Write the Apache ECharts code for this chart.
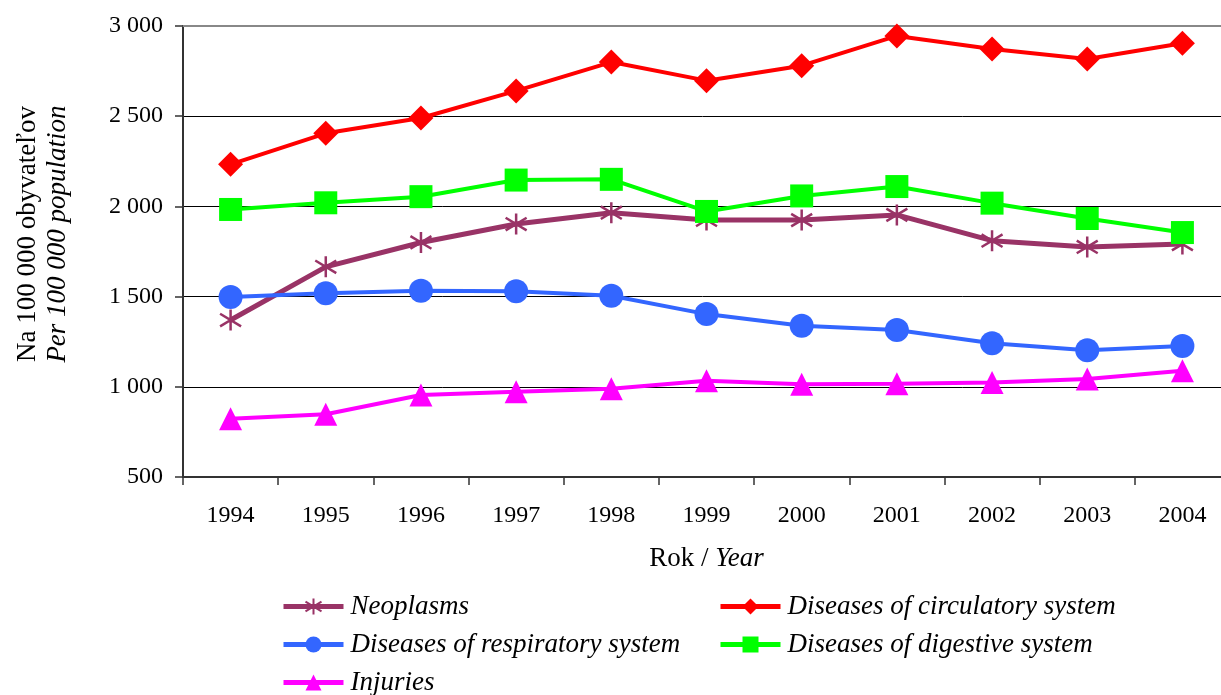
<!DOCTYPE html>
<html>
<head>
<meta charset="utf-8">
<script src="https://cdn.jsdelivr.net/npm/echarts@6/dist/echarts.min.js"></script>
<style>
  html, body { margin: 0; padding: 0; background: #fff; }
  #chart { width: 1221px; height: 695px; }
</style>
</head>
<body>
<div id="chart"></div>
<script>
  // roky / years
  const years = ['1994', '1995', '1996', '1997', '1998', '1999', '2000', '2001', '2002', '2003', '2004']

  // na 100 000 obyvatelov
  const neoplasms = [1370, 1665, 1800, 1902, 1965, 1925, 1924, 1953, 1810, 1775, 1791]
  const circulatory = [2233, 2405, 2490, 2640, 2800, 2697, 2780, 2945, 2873, 2817, 2904]
  const respiratory = [1498, 1518, 1532, 1530, 1505, 1403, 1339, 1315, 1241, 1202, 1226]
  const digestive = [1983, 2020, 2054, 2146, 2150, 1972, 2058, 2110, 2018, 1933, 1855]
  const injuries = [823, 848, 955, 972, 989, 1034, 1014, 1017, 1024, 1043, 1089]

  const names = [
    'Neoplasms',
    'Diseases of circulatory system',
    'Diseases of respiratory system',
    'Diseases of digestive system',
    'Injuries'
  ]

  const serif = '"Liberation Serif", "DejaVu Serif", serif'
  const asterisk = 'path://M10,0L10,20M1,4L19,16M1,16L19,4'

  // 3000 -> "3 000"
  function fmt (v) {
    if (v < 1000) return String(v)
    let rest = String(v % 1000)
    while (rest.length < 3) rest = '0' + rest
    return Math.floor(v / 1000) + ' ' + rest
  }

  function mkSeries (name, data, color, symbol, size, width) {
    return {
      name: name,
      type: 'line',
      data: data,
      symbol: symbol,
      symbolSize: size,
      showAllSymbol: true,
      color: color,
      lineStyle: { color: color, width: width },
      itemStyle: { color: color, borderColor: color, borderWidth: symbol === asterisk ? 2.5 : 0 },
      emphasis: { disabled: true },
      animation: false
    }
  }

  // jedna legenda pre kazdu polozku, aby sedeli stlpce
  function mkLegend (name, left, top) {
    return {
      data: [name],
      left: left,
      top: top,
      itemWidth: 60,
      itemHeight: 20,
      padding: 0,
      lineStyle: { width: 5 },
      textStyle: {
        fontFamily: serif,
        fontStyle: 'italic',
        fontSize: 27,
        color: '#000',
        padding: [0, 0, 0, 2]
      }
    }
  }

  let chart = echarts.init(document.getElementById('chart'), null, { renderer: 'canvas' })
  chart.setOption({
    animation: false,
    backgroundColor: '#fff',
    grid: {
      left: 183,
      top: 26,
      width: 1047,
      height: 451,
      outerBoundsMode: 'none',
      containLabel: false
    },
    legend: [
      mkLegend(names[0], 281, 593),
      mkLegend(names[2], 281, 631),
      mkLegend(names[4], 281, 669),
      mkLegend(names[1], 718, 593),
      mkLegend(names[3], 718, 631)
    ],
    xAxis: [
      {
        type: 'category',
        data: years,
        boundaryGap: true,
        axisLine: { lineStyle: { color: '#333', width: 2 } },
        axisTick: { show: true, length: 8, inside: false, lineStyle: { color: '#333', width: 1.5 } },
        axisLabel: { color: '#000', fontFamily: serif, fontSize: 24, margin: 27 },
        name: '{a|Rok / }{b|Year}',
        nameLocation: 'middle',
        nameGap: 68,
        nameTextStyle: {
          rich: {
            a: { fontFamily: serif, fontSize: 27, color: '#000' },
            b: { fontFamily: serif, fontSize: 27, fontStyle: 'italic', color: '#000' }
          }
        }
      },
      {
        // horna hrana plochy grafu
        type: 'category',
        data: years,
        position: 'top',
        axisLine: { lineStyle: { color: '#888', width: 2 } },
        axisTick: { show: false },
        axisLabel: { show: false }
      }
    ],
    yAxis: {
      type: 'value',
      min: 500,
      max: 3000,
      interval: 500,
      axisLine: { show: true, lineStyle: { color: '#333', width: 2 } },
      axisTick: { show: true, length: 8, lineStyle: { color: '#333', width: 1.5 } },
      axisLabel: { color: '#000', fontFamily: serif, fontSize: 24, margin: 20, formatter: fmt },
      splitLine: { lineStyle: { color: '#000', width: 1 } },
      name: '{a|Na 100 000 obyvateľov}\n{b|Per 100 000 population}',
      nameLocation: 'middle',
      nameGap: 110,
      nameTextStyle: {
        padding: [0, 0, 0, 35],
        rich: {
          a: { fontFamily: serif, fontSize: 27, color: '#000', lineHeight: 30 },
          b: { fontFamily: serif, fontSize: 27, fontStyle: 'italic', color: '#000', lineHeight: 30 }
        }
      }
    },
    series: [
      mkSeries(names[0], neoplasms, '#993366', asterisk, 21, 5),
      mkSeries(names[1], circulatory, '#FF0000', 'diamond', 25, 4),
      mkSeries(names[2], respiratory, '#3366FF', 'circle', 24, 4),
      mkSeries(names[3], digestive, '#00FF00', 'rect', 23, 4),
      mkSeries(names[4], injuries, '#FF00FF', 'triangle', 23, 4)
    ]
  })
</script>
</body>
</html>
